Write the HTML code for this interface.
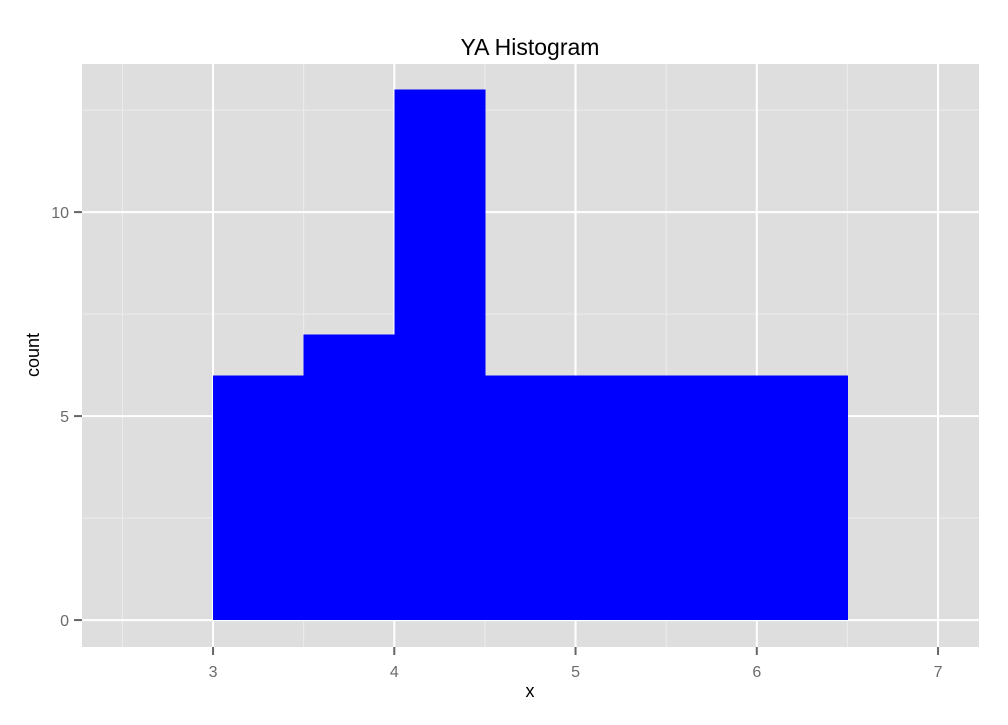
<!DOCTYPE html>
<html><head><meta charset="utf-8"><style>
body{margin:0;background:#fff}
svg text{font-family:"Liberation Sans",Arial,sans-serif}
</style></head><body>
<svg id="c" width="1008" height="720" xmlns="http://www.w3.org/2000/svg"></svg>
<script>
const binStarts=[3,3.5,4,4.5,5,5.5,6];
const counts=[6,7,13,6,6,6,6];
const binWidth=0.5;
const xTicks=[3,4,5,6,7];
const xMinor=[2.5,3.5,4.5,5.5,6.5];
const yTicks=[0,5,10];
const yMinor=[2.5,7.5,12.5];
const L=82,R=979,T=64,B=647;
const xMin=2.277,xMax=7.226,yMin=-0.66,yMax=13.63;
const X=v=>L+(v-xMin)/(xMax-xMin)*(R-L);
const Y=v=>B-(v-yMin)/(yMax-yMin)*(B-T);
const svg=document.getElementById('c');
const NS='http://www.w3.org/2000/svg';
function mk(t,a,p){const e=document.createElementNS(NS,t);for(const k in a)e.setAttribute(k,a[k]);(p||svg).appendChild(e);return e;}
const bg=mk('rect',{x:L,y:T,width:R-L,height:B-T,fill:'#dedede'});


xMinor.forEach(v=>{const l=mk('line',{x1:X(v),x2:X(v),y1:T,y2:B,stroke:'#ececec','stroke-width':1});

});
yMinor.forEach(v=>{const l=mk('line',{x1:L,x2:R,y1:Y(v),y2:Y(v),stroke:'#ececec','stroke-width':1});

});
xTicks.forEach(v=>{const l=mk('line',{x1:X(v),x2:X(v),y1:T,y2:B,stroke:'#fff','stroke-width':2});


const t=mk('line',{x1:X(v),x2:X(v),y1:B,y2:B+8,stroke:'#666','stroke-width':2});


const tx=mk('text',{x:X(v),y:B+30,'text-anchor':'middle','font-size':16,fill:'#6b6b6b'});tx.textContent=v;

});
yTicks.forEach(v=>{const l=mk('line',{x1:L,x2:R,y1:Y(v),y2:Y(v),stroke:'#fff','stroke-width':2});


const t=mk('line',{x1:L-8,x2:L,y1:Y(v),y2:Y(v),stroke:'#666','stroke-width':2});


const tx=mk('text',{x:L-13,y:Y(v)+6,'text-anchor':'end','font-size':16,fill:'#6b6b6b'});tx.textContent=v;

});
binStarts.forEach((s,i)=>{const r=mk('rect',{x:X(s),y:Y(counts[i]),width:X(s+binWidth)-X(s)+0.6,height:Y(0)-Y(counts[i]),fill:'#0000ff','shape-rendering':'crispEdges'});

});
const title=mk('text',{x:530,y:55,'text-anchor':'middle','font-size':23,fill:'#000'});title.textContent='YA Histogram';


const xt=mk('text',{x:530,y:697,'text-anchor':'middle','font-size':18,fill:'#000'});xt.textContent='x';


const yt=mk('text',{x:0,y:0,'text-anchor':'middle','font-size':18,fill:'#000',transform:'translate(39,355) rotate(-90)'});yt.textContent='count';


</script>
</body></html>
